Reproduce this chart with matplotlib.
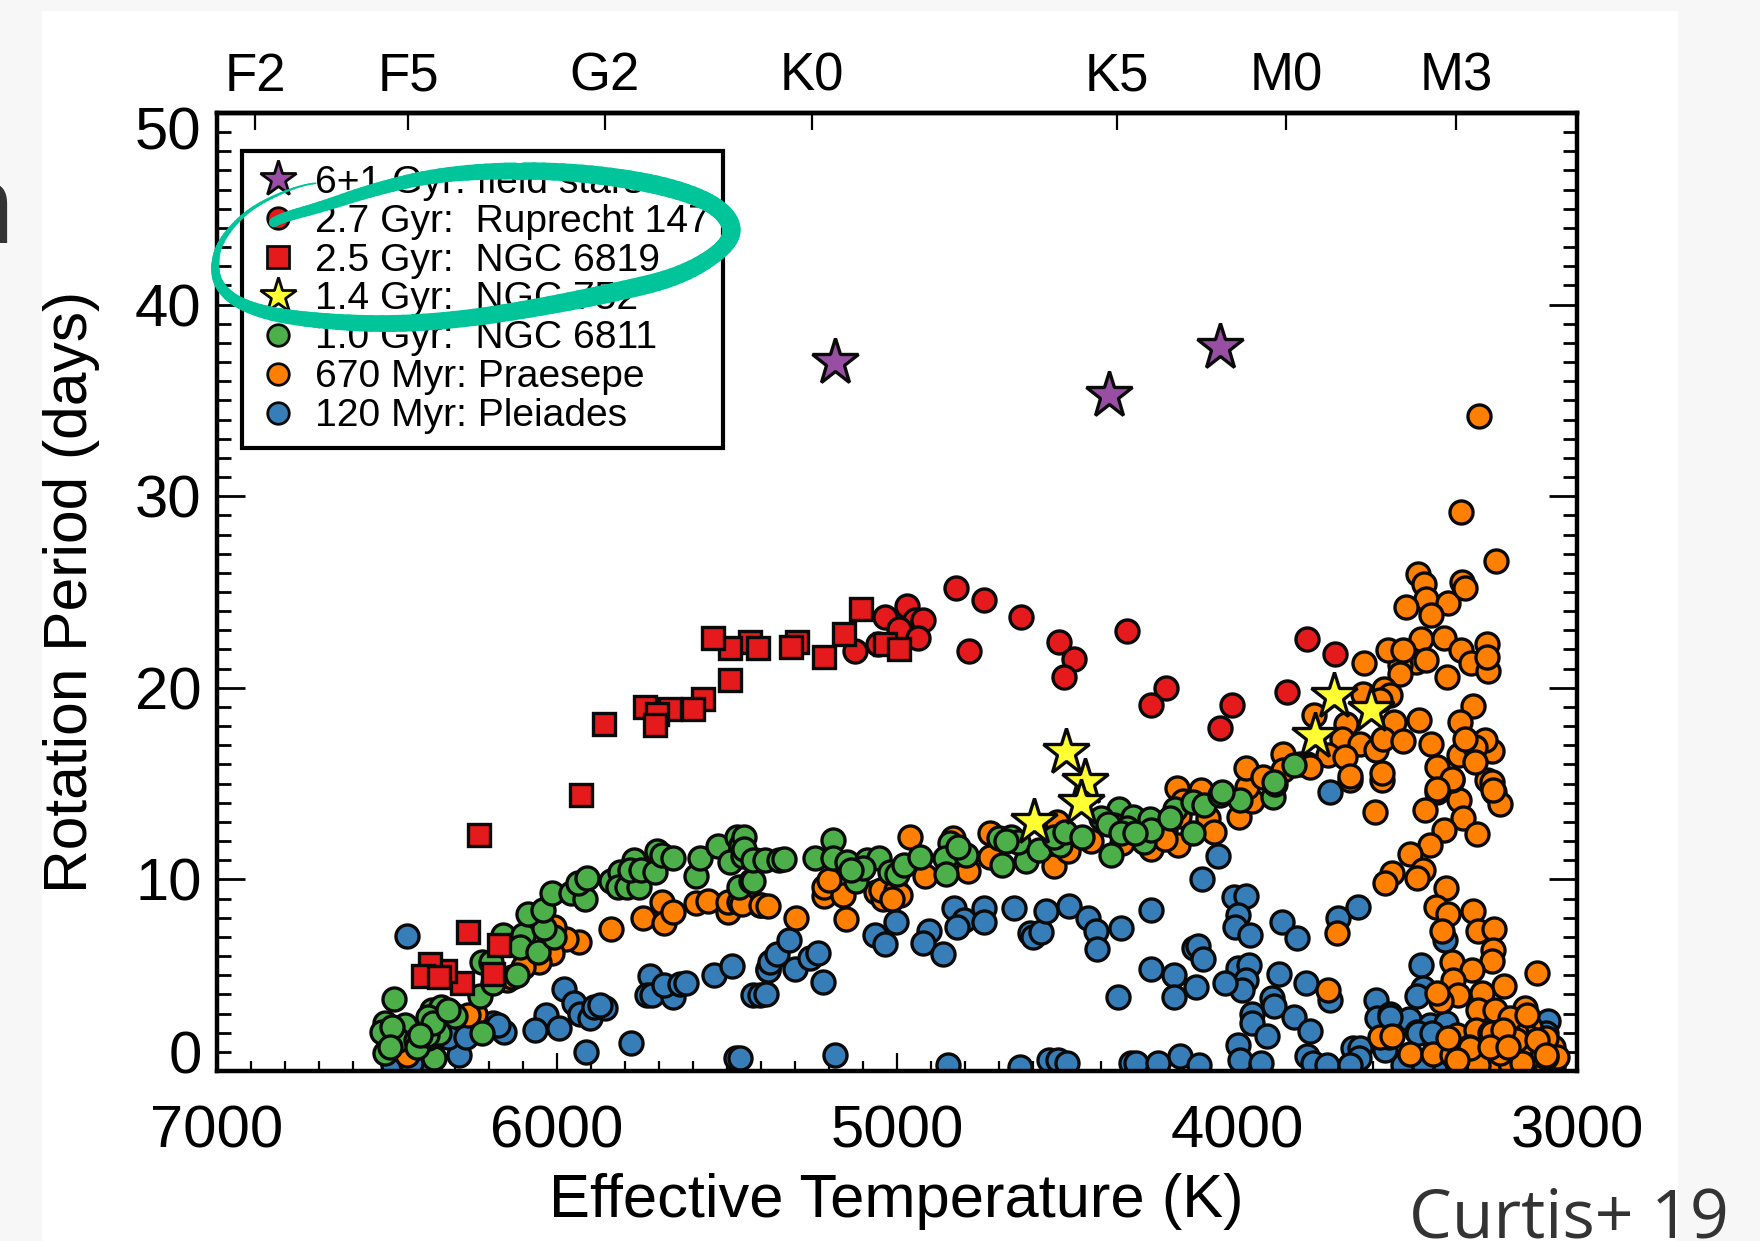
import numpy as np
import matplotlib
matplotlib.use("Agg")
import matplotlib.pyplot as plt
from matplotlib.collections import LineCollection
from matplotlib.lines import Line2D
from matplotlib.patches import Rectangle
from matplotlib.transforms import ScaledTranslation

plt.rcParams['font.family'] = ['Liberation Sans', 'DejaVu Sans']

# star data: effective temperature (K), rotation period (days)
field_teff = [5182, 4377, 4050]
field_prot = [37.0, 35.3, 37.8]

ruprecht_teff = [4826, 4743, 4634, 4525, 4479, 4509, 4789, 4324, 4208, 4254, 4971, 5034, 4948, 4925, 4994, 4938,
                 5057, 5123, 3795, 3712, 3854, 4014, 4050]
ruprecht_prot = [25.2, 24.6, 23.7, 22.4, 21.5, 20.56, 21.9, 22.96, 20.0, 19.1, 24.25, 23.67, 23.55, 23.55, 23.08, 22.6,
                 22.26, 21.9, 22.56, 21.78, 19.78, 19.12, 17.9]

ngc6819_teff = [5106, 5156, 5215, 5294, 5311, 5433, 5410, 5492, 5542, 5492, 5571, 5601, 5667, 5740, 5707, 5713,
                5862, 5928, 6228, 6262, 6170, 6189, 6280, 6329, 6373, 6394, 6346, 5034, 4994]
ngc6819_prot = [24.1, 22.8, 21.6, 22.4, 22.15, 22.4, 22.1, 22.1, 22.6, 20.4, 19.4, 18.87, 18.87, 19.0, 18.63, 18.05,
                18.1, 14.42, 12.3, 7.27, 6.57, 5.06, 4.57, 5.23, 5.6, 4.95, 4.92, 22.3, 22.0]

ngc752_teff = [4502, 4446, 4459, 4598, 3772, 3716, 3606]
ngc752_prot = [16.64, 15.06, 14.0, 13.0, 17.5, 19.55, 18.82]

ngc6811_teff = [6478, 6507, 6504, 6507, 6478, 6446, 6467, 6415, 6410, 6362, 6378, 6347, 6373, 6367, 6341, 6315, 6299,
                6221, 6226, 6189, 6220, 6194, 6118, 6160, 6100, 6110, 6055, 6008, 6037, 6084, 6042, 6016, 5958, 5918,
                5937, 5913, 5842, 5816, 5821, 5795, 5759, 5774, 5785, 5753, 5711, 5706, 5690, 5659, 5590, 5580, 5527,
                5491, 5470, 5459, 5465, 5428, 5454, 5417, 5451, 5451, 5425, 5425, 5388, 5346, 5331, 5241, 5187, 5187,
                5147, 5121, 5089, 5052, 5021, 5000, 4979, 4932, 5100, 5136, 4845, 4858, 4855, 4797, 4821, 4690, 4622,
                4701, 4664, 4643, 4582, 4522, 4538, 4507, 4456, 4370, 4347, 4361, 4401, 4307, 4275, 4256, 4254, 4323,
                4181, 4197, 4128, 4128, 4097, 4050, 3992, 3895, 3887, 3832, 3890, 4045,
                6516, 6486, 6413, 6383, 6378, 6364, 6403, 6491, 6320, 4380, 4340, 4300, 4680]
ngc6811_prot = [3.74, 2.48, 2.05, 0.92, 2.22, 2.4, 1.6, 1.6, 1.27, 0.66, 1.7, 2.0, 2.83, 3.18, 3.35, 3.09, 2.87,
                1.96, 3.91, 4.57, 5.7, 5.7, 5.0, 7.1, 7.1, 6.48, 6.19, 6.97, 7.44, 8.2, 8.4, 9.27, 9.27, 9.0,
                9.79, 10.05, 9.9, 10.4, 9.6, 9.6, 9.6, 11.0, 10.5, 10.5, 10.4, 11.5, 11.27, 11.13, 10.17, 11.1, 11.75,
                10.9, 12.2, 11.8, 9.6, 9.9, 11.2, 11.0, 12.2, 11.6, 9.9, 11.0, 11.0, 11.0, 11.06, 11.1, 12.05, 11.1,
                10.9, 9.93, 11.0, 11.1, 10.4, 10.3, 10.75, 11.18, 10.6, 10.5, 11.9, 11.1, 10.28, 11.27, 11.7, 10.75, 10.95,
                12.14, 12.2, 11.96, 11.53, 11.8, 12.2, 12.5, 12.2, 11.27, 13.7, 12.83, 13.18, 13.27, 11.96, 13.13, 12.57, 12.66,
                13.65, 13.18, 12.43, 14.05, 13.88, 14.4, 14.17, 14.31, 15.0, 15.95, 15.1, 14.56,
                2.05, 2.3, 1.27, 1.88, 2.83, 2.5, 1.88, 1.27, 3.18, 12.9, 12.4, 12.4, 12.0]

praesepe_teff = [5935, 5840, 5748, 5690, 5685, 5659, 5590, 5557, 5496, 5496, 5465, 5404, 5974, 6010, 6016, 6052, 6100,
                 6147, 6131, 6241, 6262, 6441, 5457, 5399, 5378, 5297, 5150, 5215, 5215, 5160, 5200, 5063, 5042, 5047,
                 5002, 4990, 5016, 4963, 4918, 4790, 4835, 4727, 4727, 4538, 4528, 4496, 4428, 4338, 4254, 4212, 4173,
                 4176, 4107, 4086, 4068, 3995, 3955, 3971, 4160, 4212, 4170, 3594, 3668, 3573, 3411, 3348, 3446, 3335,
                 3392, 3293, 3433, 3490, 3544, 3565, 3452, 3472, 3245, 3227, 3369, 3266, 3386, 3415, 3379, 3396, 3307,
                 3291, 3245, 3705, 3247, 3251, 3367, 3310, 3364, 3349, 3401, 3413, 3215, 3117, 3278, 3291, 3242, 3153,
                 3732, 3553, 3580, 3352, 3298, 3237, 3139, 3193, 3490, 3423, 3369, 3317, 3131, 3173, 3080, 3070, 3207,
                 3276, 3247, 3354, 3109, 3144, 3090, 3227, 3168, 3256, 3198, 3129, 3070, 3060, 3178, 3256, 3090, 3149,
                 3291, 3198, 3289, 3342, 3239, 3469, 3450, 3443, 3503, 3379, 3430, 3338, 3330, 3459, 3392, 3340, 3312,
                 3264, 3261, 3264, 3474, 3443, 3521, 3557, 3511, 3521, 3627, 3382, 3567, 3550, 3629, 3580, 3773, 3539,
                 3465, 3305, 3345, 3678, 3692, 3639, 3590, 3570, 3511, 3428, 3347, 3291, 3249, 3271, 3301, 3330, 3301,
                 3732, 3681, 3864, 3975, 3923, 3795, 3815, 3668, 3573, 3413, 3369, 3251, 3247, 3413, 3786, 3864,
                 3315, 3197, 3168, 3545, 3148, 3178, 3251, 3217, 3379, 3119, 3090, 3354, 3163, 3227, 3256, 3202]
praesepe_prot = [6.71, 7.41, 7.96, 8.83, 7.75, 8.3, 8.75, 8.88, 8.3, 8.83, 8.83, 8.66, 6.87, 7.5, 6.14, 5.7, 5.44,
                 4.75, 4.9, 3.0, 2.92, 0.83, 8.74, 8.66, 8.6, 7.96, 7.91, 9.13, 9.6, 9.18, 9.96, 9.35, 9.0, 9.44,
                 9.44, 9.18, 9.0, 12.2, 10.17, 10.45, 12.14, 12.4, 11.18, 10.7, 13.0, 11.5, 12.0, 11.9, 11.6, 12.6, 11.8,
                 14.75, 14.66, 13.18, 12.45, 13.27, 14.1, 14.8, 14.1, 12.1, 13.3, 13.5, 15.2, 15.2, 14.57, 14.17, 13.6, 13.18,
                 12.6, 12.36, 11.8, 11.3, 10.35, 9.8, 10.5, 10.05, 14.57, 13.96, 15.2, 15.2, 9.56, 8.57, 8.22, 7.3, 8.36,
                 7.3, 7.4, 7.2, 6.3, 5.75, 5.7, 5.27, 4.75, 3.96, 3.65, 4.05, 4.43, 5.13, 4.05, 3.18, 3.18, 3.27,
                 4.22, 1.79, 1.79, 1.88, 2.14, 1.88, 2.31, 2.66, 0.88, 0.88, 0.83, 1.27, 0.66, 1.09, 0.3, 1.27, 0.4,
                 0.48, 0.57, 0.4, 1.44, 1.79, 1.7, 1.44, 1.6, 1.27, 0.4, 0.2, 0.2, 0.75, 1.96, 1.96, 0.75, 0.57,
                 0.3, 1.44, 34.16, 29.17, 26.6, 25.95, 25.4, 24.65, 24.2, 24.4, 23.8, 25.52, 25.2, 22.56, 22.6, 21.95, 21.3,
                 22.27, 20.86, 21.6, 21.35, 21.43, 21.17, 21.95, 21.95, 20.74, 21.3, 20.56, 19.96, 19.6, 19.7, 19.35, 18.56, 18.2,
                 18.3, 19.05, 18.2, 18.13, 17.35, 17.05, 16.74, 17.35, 17.2, 17.05, 16.48, 16.48, 16.7, 17.26, 16.9, 17.35, 16.13,
                 16.48, 16.39, 16.56, 15.83, 15.35, 16.04, 16.0, 15.4, 15.57, 15.87, 15.26, 15.08, 14.65, 14.7, 15.87, 15.7,
                 1.18, 2.75, 1.1, 1.82, 2.9, 1.6, 1.96, 2.14, 1.7, 1.6, 0.83, 0.57, 0.4, 0.92, 1.27, 1.27]

pleiades_teff = [6441, 5979, 5950, 5932, 5903, 5890, 5858, 5874, 6031, 6065, 5995, 5916, 5782, 5475, 5727, 5735, 5722,
                 5659, 5685, 5638, 5622, 5538, 5485, 5425, 5404, 5380, 6189, 6157, 6173, 6289, 6320, 6268, 6483, 6410,
                 6430, 5386, 5378, 5373, 5352, 5317, 5299, 5257, 5233, 5217, 5181, 5065, 5034, 5002, 5462, 4906, 4923,
                 4866, 4832, 4803, 4825, 4743, 4743, 4656, 4609, 4601, 4577, 4562, 4494, 4438, 4414, 4412, 4342, 4252,
                 4055, 4103, 4351, 4254, 4186, 4184, 4120, 4126, 4116, 4100, 4008, 3973, 3997, 4005, 3963, 3997, 3966,
                 3973, 3984, 4034, 3868, 3823, 3877, 3798, 3955, 3957, 3913, 3898, 3890, 3833, 3784, 3997, 3990, 3929,
                 4850, 4638, 4554, 4527, 4501, 4312, 4296, 4233, 4168, 4113, 3727, 3702, 3645, 3727, 3795, 3776, 3735,
                 3658, 3639, 3641, 3668, 3590, 3588, 3550, 3565, 3460, 3454, 3470, 3495, 3472, 3433, 3433, 3384, 3389,
                 3085, 3090, 3511, 3443, 3403, 3467, 3427, 3550, 3452]
pleiades_prot = [7.06, 4.26, 3.56, 3.0, 2.75, 3.35, 3.27, 3.44, 2.92, 2.14, 2.22, 1.0, 1.44, 0.69, 4.95, 3.96, 3.96,
                 3.88, 4.5, 4.54, 4.57, 5.0, 5.48, 3.96, 3.96, 5.3, 2.48, 2.05, 2.4, 0.83, 1.8, 1.8, 0.3, 0.4,
                 0.4, 4.0, 5.27, 5.7, 6.1, 6.83, 5.32, 5.88, 6.17, 4.66, 0.83, 7.09, 6.62, 7.79, 0.66, 7.3, 6.66,
                 6.1, 8.5, 7.9, 7.53, 8.5, 7.79, 8.5, 7.2, 7.0, 7.27, 8.35, 8.6, 7.96, 7.3, 6.36, 7.48, 8.4,
                 11.2, 10.0, 3.88, 5.32, 5.0, 3.88, 4.36, 6.4, 6.5, 5.84, 9.1, 9.15, 8.14, 7.53, 7.1, 5.35, 5.53,
                 4.75, 4.22, 4.57, 7.79, 6.92, 5.06, 4.57, 3.0, 2.5, 1.84, 3.79, 3.39, 2.8, 2.1, 1.35, 0.57, 0.4,
                 0.3, 0.22, 0.57, 0.57, 0.43, 0.43, 0.43, 0.4, 0.8, 0.3, 14.57, 7.96, 8.57, 3.7, 0.78, 0.43, 0.3,
                 1.18, 1.18, 0.66, 0.3, 3.7, 2.78, 3.0, 1.1, 5.53, 4.31, 3.91, 2.69, 2.05, 2.4, 1.88, 2.5, 6.83,
                 2.62, 1.96, 0.3, 0.2, 0.2, 1.96, 1.96, 2.8, 0.4]

spec_teff = [6888, 6438, 5860, 5251, 4353, 3855, 3356]
spec_names = ['F2', 'F5', 'G2', 'K0', 'K5', 'M0', 'M3']

# hand drawn ring around the legend, figure pixels and stroke width in pixels
ring_x = [327, 301, 265, 240, 219, 214, 219, 240, 286, 378, 459, 536, 612, 679, 724, 735, 714, 663, 587, 510, 434, 372, 321, 281, 268]
ring_y = [182, 185, 200, 217, 243, 267, 287, 305, 318, 325, 320, 308, 293, 277, 250, 227, 203, 185, 173, 170, 175, 190, 207, 218, 226]
ring_w = [1.5, 2, 3, 4, 6, 8, 10, 12, 15, 17, 17, 18, 19, 18, 16, 19, 18, 19, 18, 17, 14, 13, 11, 10, 9]

W, H = 1760, 1241
fig = plt.figure(figsize=(W / 100, H / 100), dpi=100, facecolor='#f7f7f7')
fig.add_artist(Rectangle((42 / W, 0), (1678 - 42) / W, 1 - 11 / H, transform=fig.transFigure,
                         facecolor='white', edgecolor='none', zorder=-5))

ax = fig.add_axes([217 / W, 1 - 1071 / H, 1360 / W, 958 / H])

def dots(x, y, color, marker='o', ms=16.6):
    ax.plot(x, y, ls='none', marker=marker, ms=ms, mfc=color, mec='#0a0a0a', mew=2.4)

dots(pleiades_teff, pleiades_prot, '#377eb8')
dots(praesepe_teff, praesepe_prot, '#ff7f00')
dots(ngc6811_teff, ngc6811_prot, '#4daf4a')
dots(ruprecht_teff, ruprecht_prot, '#e41a1c')
dots(ngc6819_teff, ngc6819_prot, '#e41a1c', 's', 15.8)
dots(ngc752_teff, ngc752_prot, '#ffff33', '*', 35)
dots(field_teff, field_prot, '#984ea3', '*', 35)

ax.set_xlim(7000, 3000)
ax.set_ylim(0, 50)
ax.set_xticks(range(3000, 7001, 1000))
ax.set_xticks(range(3000, 7001, 100), minor=True)
ax.set_yticks(range(0, 51, 10))
ax.set_yticks(range(0, 51), minor=True)
for s in ax.spines.values():
    s.set_linewidth(3.2)
ax.tick_params(axis='x', which='major', direction='in', top=False, length=13, width=1.6, labelsize=43, pad=24)
ax.tick_params(axis='x', which='minor', direction='in', top=False, length=7, width=1.6)
ax.tick_params(axis='y', which='major', direction='in', right=True, length=20, width=2, labelsize=43, pad=11)
ax.tick_params(axis='y', which='minor', direction='in', right=True, length=10, width=2)

# end labels sit inside the frame height
for lab, v in zip(ax.get_yticklabels(), ax.get_yticks()):
    if v == 50:
        lab.set_transform(lab.get_transform() + ScaledTranslation(0, -15 / 100, fig.dpi_scale_trans))
    if v == 0:
        lab.set_transform(lab.get_transform() + ScaledTranslation(0, 19 / 100, fig.dpi_scale_trans))

top = ax.secondary_xaxis('top')
top.set_xticks(spec_teff, spec_names)
top.tick_params(axis='x', direction='in', length=12, width=1.6, labelsize=38, pad=8)
top.spines['top'].set_linewidth(3.2)

ax.set_xlabel('Effective Temperature (K)', fontsize=44.3, va='center')
ax.set_ylabel('Rotation Period (days)', fontsize=43.6, va='center')
ax.xaxis.set_label_coords((896 - 217) / 1360, (1071 - 1201) / 958, transform=ax.transAxes)
ax.yaxis.set_label_coords((72 - 217) / 1360, (1071 - 592) / 958, transform=ax.transAxes)

handles = [
    Line2D([], [], ls='none', marker='*', ms=27, mfc='#984ea3', mec='#0a0a0a', mew=2, label='6+1 Gyr: field stars'),
    Line2D([], [], ls='none', marker='o', ms=15.5, mfc='#e41a1c', mec='#0a0a0a', mew=2, label='2.7 Gyr:  Ruprecht 147'),
    Line2D([], [], ls='none', marker='s', ms=16, mfc='#e41a1c', mec='#0a0a0a', mew=2, label='2.5 Gyr:  NGC 6819'),
    Line2D([], [], ls='none', marker='*', ms=27, mfc='#ffff33', mec='#0a0a0a', mew=2, label='1.4 Gyr:  NGC 752'),
    Line2D([], [], ls='none', marker='o', ms=15.5, mfc='#4daf4a', mec='#0a0a0a', mew=2, label='1.0 Gyr:  NGC 6811'),
    Line2D([], [], ls='none', marker='o', ms=15.5, mfc='#ff7f00', mec='#0a0a0a', mew=2, label='670 Myr: Praesepe'),
    Line2D([], [], ls='none', marker='o', ms=15.5, mfc='#377eb8', mec='#0a0a0a', mew=2, label='120 Myr: Pleiades'),
]
leg = ax.legend(handles=handles, loc='upper left', bbox_to_anchor=((242 - 217) / 1360, (1071 - 151) / 958),
                fontsize=28.1, frameon=True, fancybox=False, framealpha=1, edgecolor='black',
                borderpad=0.35, borderaxespad=0, handlelength=1.15, handletextpad=0.36, labelspacing=0.075)
leg.get_frame().set_linewidth(3)

# smooth the ring and draw it as a stroke of changing width
rx, ry, rw = np.array(ring_x, float), np.array(ring_y, float), np.array(ring_w, float)
for _ in range(3):
    rx = np.column_stack([0.75 * rx[:-1] + 0.25 * rx[1:], 0.25 * rx[:-1] + 0.75 * rx[1:]]).ravel()
    ry = np.column_stack([0.75 * ry[:-1] + 0.25 * ry[1:], 0.25 * ry[:-1] + 0.75 * ry[1:]]).ravel()
    rw = np.column_stack([0.75 * rw[:-1] + 0.25 * rw[1:], 0.25 * rw[:-1] + 0.75 * rw[1:]]).ravel()
pts = np.column_stack([rx / W, 1 - ry / H])
segs = np.stack([pts[:-1], pts[1:]], axis=1)
ring = LineCollection(segs, linewidths=rw[:-1] * 0.72, colors='#00c49a', capstyle='round',
                      transform=fig.transFigure, zorder=20)
fig.add_artist(ring)

fig.text(1409 / W, 1 - 1238 / H, 'Curtis+ 19', fontsize=49, color='#333333', family='Open Sans',
         ha='left', va='baseline', zorder=20)
fig.text(16 / W, 1 - 243 / H, 'n', fontsize=80, color='#333333', family='Open Sans', ha='right', va='baseline')

fig.savefig('out.png', dpi=100, facecolor=fig.get_facecolor())
